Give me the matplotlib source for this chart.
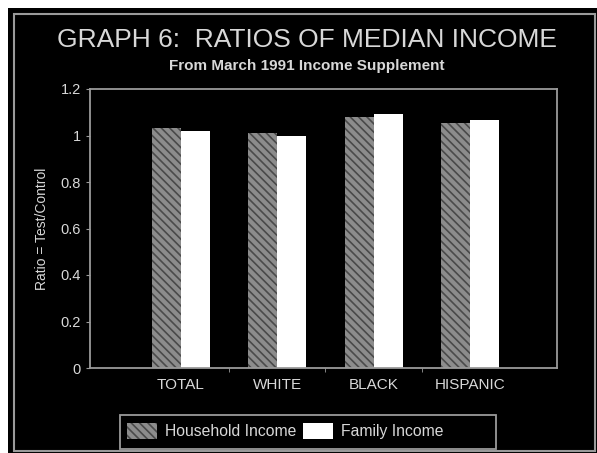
import matplotlib
matplotlib.use("Agg")
import matplotlib.pyplot as plt
import matplotlib.patches as mpatches
import numpy as np

plt.rcParams["font.family"] = ["Liberation Sans", "DejaVu Sans"]
plt.rcParams["hatch.color"] = "#4a4a4a"
plt.rcParams["hatch.linewidth"] = 1.2

# Données
categories = ["TOTAL", "WHITE", "BLACK", "HISPANIC"]
household = [1.031, 1.009, 1.078, 1.055]
family = [1.019, 0.998, 1.092, 1.065]
yticks = [0, 0.2, 0.4, 0.6, 0.8, 1, 1.2]
ytick_labels = ["0", "0.2", "0.4", "0.6", "0.8", "1", "1.2"]

W, H = 597, 453
fig = plt.figure(figsize=(W / 100, H / 100), dpi=100)
fig.patch.set_facecolor("white")

# fond noir + cadre gris
fig.add_artist(mpatches.Rectangle((8 / W, 0), 1 - 8 / W, 1 - 8 / H,
                                  transform=fig.transFigure, facecolor="black",
                                  edgecolor="none", zorder=-10))
fig.add_artist(mpatches.Rectangle((14 / W, 2 / H), (595 - 14) / W, (451 - 14) / H,
                                  transform=fig.transFigure, facecolor="none",
                                  edgecolor="#9a9a9a", linewidth=1.5, zorder=-5))

txt = "#d8d8d8"
fig.text(307 / W, 1 - 40 / H, "GRAPH 6:  RATIOS OF MEDIAN INCOME", color=txt,
         fontsize=19, ha="center", va="center")
fig.text(307 / W, 1 - 66 / H, "From March 1991 Income Supplement", color=txt,
         fontsize=11, fontweight="bold", ha="center", va="center")

ax = fig.add_axes([90 / W, (H - 368) / H, (557 - 90) / W, (368 - 89) / H])
ax.set_facecolor("black")

x = np.arange(len(categories))
w = 0.3
ax.bar(x - w / 2, household, w, color="#8c8c8c", hatch="\\\\\\\\", edgecolor="#4a4a4a",
       linewidth=0, label="Household Income")
ax.bar(x + w / 2, family, w, color="white", linewidth=0, label="Family Income")

ax.set_xlim(-0.94, 3.9)
ax.set_ylim(0, 1.2)
ax.set_yticks(yticks)
ax.set_yticklabels(ytick_labels)
ax.set_xticks(x)
ax.set_xticklabels(categories)
ax.set_xticks(x[:-1] + 0.5, minor=True)
ax.tick_params(axis="x", which="major", length=0, pad=7, colors=txt, labelsize=11)
ax.tick_params(axis="x", which="minor", length=3, color="#9a9a9a")
ax.tick_params(axis="y", length=3, color="#9a9a9a", labelcolor=txt, labelsize=10.5)
for s in ax.spines.values():
    s.set_color("#9a9a9a")
    s.set_linewidth(1.3)
ax.set_ylabel("Ratio = Test/Control", color=txt, fontsize=10, labelpad=8)

# légende : cadre dessiné à part, plus large que les entrées
fig.add_artist(mpatches.Rectangle((120 / W, 1 - 449 / H), (496 - 120) / W, (449 - 415) / H,
                                  transform=fig.transFigure, facecolor="none",
                                  edgecolor="#9a9a9a", linewidth=1.3, zorder=-4))
leg = ax.legend(loc="center left", bbox_to_anchor=(127 / W, 1 - 431 / H),
                bbox_transform=fig.transFigure, ncol=2, frameon=False,
                fontsize=11.3, handlelength=1.9, handleheight=1.15,
                columnspacing=0.45, handletextpad=0.5, borderpad=0, borderaxespad=0)
for t in leg.get_texts():
    t.set_color(txt)

plt.savefig("out.png", dpi=100)
